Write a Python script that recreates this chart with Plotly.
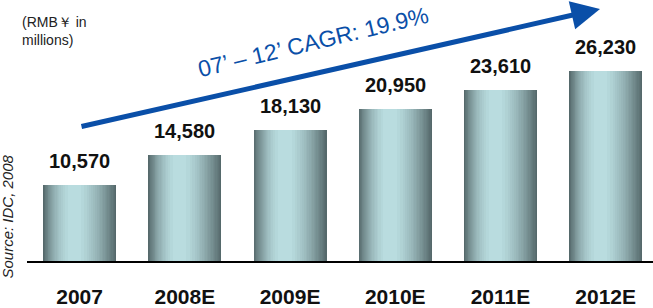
import plotly.graph_objects as go
import numpy as np

# ---- data ----
years = ["2007", "2008E", "2009E", "2010E", "2011E", "2012E"]
values = [10570, 14580, 18130, 20950, 23610, 26230]
value_labels = ["10,570", "14,580", "18,130", "20,950", "23,610", "26,230"]
unit_label = "(RMB￥ in<br>millions)"
cagr_label = "07’ – 12’ CAGR: 19.9%"
source_label = "Source: IDC, 2008"

FONT = "Arial, Liberation Sans, sans-serif"
BLUE = "#0a4fa8"

fig = go.Figure()

# Simulated horizontal gradient on bars: nested overlaid bars (same data), lighter toward
# a highlight that sits a little left of centre
dark = np.array([0x55, 0x69, 0x6b])
light = np.array([0xbe, 0xe2, 0xe5])
N = 22
full_w = 0.694
peak = 0.44
for i in range(N):
    s = 1 - i / N                      # darkness of this layer (1 = outermost)
    xl = peak - peak * s ** (1 / 2.1)
    xr = peak + (1 - peak) * s ** (1 / 1.6)
    c = light + (dark - light) * s
    col = "rgb(%d,%d,%d)" % tuple(int(round(v)) for v in c)
    fig.add_trace(go.Bar(
        x=years, y=values, width=full_w * (xr - xl), offset=-full_w / 2 + full_w * xl,
        marker=dict(color=col, line=dict(width=0)),
        showlegend=False, hoverinfo="skip" if i else "x+y",
    ))

# value labels (x given as category index)
for idx, (v, lab) in enumerate(zip(values, value_labels)):
    fig.add_annotation(x=idx, y=v, text="<b>%s</b>" % lab, showarrow=False,
                       xanchor="center", yanchor="bottom", yshift=11,
                       font=dict(family=FONT, size=20, color="#111111"))

# CAGR arrow
fig.add_annotation(xref="paper", yref="paper",
                   x=(600 - 27) / 626, y=(264 - 9) / 264,
                   ax=80 - 600, ay=127 - 9, axref="pixel", ayref="pixel",
                   text="", showarrow=True, arrowhead=2, arrowsize=1.15,
                   arrowwidth=5, arrowcolor=BLUE)
fig.add_annotation(xref="paper", yref="paper",
                   x=(313 - 27) / 626, y=(264 - 42) / 264,
                   xanchor="center", yanchor="middle",
                   text=cagr_label, showarrow=False, textangle=-13.5,
                   font=dict(family=FONT, size=23, color=BLUE))

# unit label
fig.add_annotation(xref="paper", yref="paper",
                   x=(20 - 27) / 626, y=(264 - 12) / 264,
                   xanchor="left", yanchor="top", align="left",
                   text=unit_label, showarrow=False,
                   font=dict(family=FONT, size=14, color="#222222"))

# source
fig.add_annotation(xref="paper", yref="paper",
                   x=(8 - 27) / 626, y=(264 - 219) / 264,
                   xanchor="center", yanchor="middle",
                   text="<i>%s</i>" % source_label, showarrow=False, textangle=-90,
                   font=dict(family=FONT, size=15, color="#222222"))

fig.update_layout(
    width=653, height=308,
    margin=dict(l=27, r=0, t=0, b=44),
    barmode="overlay",
    bargap=0,
    plot_bgcolor="white", paper_bgcolor="white",
    showlegend=False,
    xaxis=dict(type="category", range=[-0.5, 5.45], showline=True, linecolor="black",
               linewidth=2, ticks="", showgrid=False, zeroline=False,
               tickfont=dict(family=FONT, size=21, color="#111111", weight="bold"),
               ticklabelstandoff=16),
    yaxis=dict(range=[0, 36066], visible=False, showgrid=False, zeroline=False),
)

fig.write_html("out.html", config={"displayModeBar": False},
               post_script="document.body.style.margin='0';document.body.style.padding='0';")
